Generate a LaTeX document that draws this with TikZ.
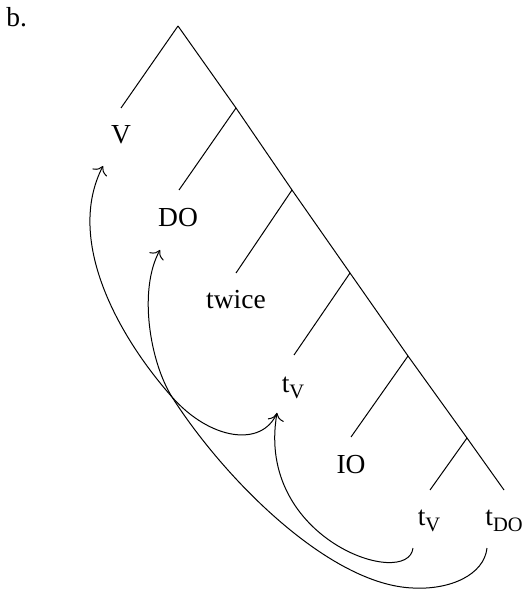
\documentclass[tikz,border=0pt]{standalone}
\usepackage{fontspec}
\setmainfont{Liberation Serif}
\usetikzlibrary{arrows.meta}
\newcommand{\lsub}[1]{\raisebox{-2.4pt}{\fontsize{8.2}{9}\selectfont #1}}

\begin{document}
\begin{tikzpicture}[x=0.4pt,y=-0.4pt,
  lbl/.style={anchor=base, inner sep=0pt, font=\fontsize{11}{13}\selectfont},
  mv/.style={-{To[scale=1.25]}, line width=0.4pt}]
\useasboundingbox (0,0) rectangle (523,590);

\node[lbl, anchor=base west] (ex) at (6,27) {b.};

% spine of the tree
\coordinate (r) at (178,26);
\coordinate (s1) at (236,108);
\coordinate (s2) at (292,190);
\coordinate (s3) at (350,273);
\coordinate (s4) at (408,356);
\coordinate (s5) at (467,438);
\coordinate (s6) at (504,490);
% ends of the left branches
\coordinate (e0) at (121,108);
\coordinate (e1) at (179,190);
\coordinate (e2) at (236,273);
\coordinate (e3) at (294,355);
\coordinate (e4) at (351,437);
\coordinate (e5) at (430,490);

\draw (r) -- (s1) -- (s2) -- (s3) -- (s4) -- (s5) -- (s6);
\draw (r) -- (e0);
\draw (s1) -- (e1);
\draw (s2) -- (e2);
\draw (s3) -- (e3);
\draw (s4) -- (e4);
\draw (s5) -- (e5);

% labels
\node[lbl] (V) at (121,144) {V};
\node[lbl] (DO) at (178,227) {DO};
\node[lbl] (tw) at (236,309) {twice};
\node[lbl] (tVa) at (293,392) {t\lsub{V}};
\node[lbl] (IO) at (351,473) {IO};
\node[lbl] (tVb) at (429,525) {t\lsub{V}};
\node[lbl] (tDO) at (504,525) {t\lsub{DO}};

% movement
\draw[mv] ([shift={(-16,23)}]tVb.base) .. controls (408,590) and (255,540) .. ([shift={(-16,21)}]tVa.base);
\draw[mv] ([shift={(-16,21)}]tVa.base) .. controls (262,448) and (210,440) .. (172,397)
  .. controls (118,336) and (65,240) .. ([shift={(-18,22)}]V.base);
\draw[mv] ([shift={(-17,23)}]tDO.base) .. controls (484,575) and (450,590) .. (413,588)
  .. controls (330,585) and (225,480) .. (172,397)
  .. controls (150,362) and (138,290) .. ([shift={(-18,23)}]DO.base);
\end{tikzpicture}
\end{document}
